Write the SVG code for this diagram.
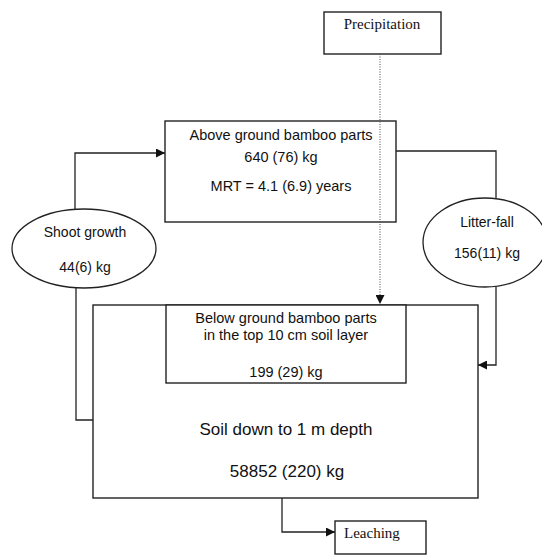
<svg xmlns="http://www.w3.org/2000/svg" width="542" height="556" viewBox="0 0 542 556">
<defs>
<marker id="arr" viewBox="0 0 10 10" refX="10" refY="5" markerWidth="10" markerHeight="9" markerUnits="userSpaceOnUse" orient="auto">
<path d="M0,0 L10,5 L0,10 Z" fill="#111"/>
</marker>
</defs>
<style>
.box{fill:#fff;stroke:#222;stroke-width:1.4}
.ell{fill:#fff;stroke:#222;stroke-width:1.3}
.ln{fill:none;stroke:#222;stroke-width:1.3}
.dot{fill:none;stroke:#444;stroke-width:1;stroke-dasharray:1 1.5}
.s{font-family:"Liberation Sans",Arial,sans-serif;font-size:14.5px;fill:#111;text-anchor:middle}
.sl{font-family:"Liberation Sans",Arial,sans-serif;font-size:17px;fill:#111;text-anchor:middle}
.t{font-family:"Liberation Serif","Times New Roman",serif;font-size:15px;fill:#111}
</style>
<rect width="542" height="556" fill="#fff"/>
<g id="soil">
<rect class="box" x="93" y="305" width="385" height="193"/>
<text class="sl" x="286" y="435">Soil down to 1 m depth</text>
<text class="sl" x="287" y="477">58852 (220) kg</text>
</g>
<g id="below">
<rect class="box" x="166" y="305" width="240" height="78"/>
<text class="s" x="286" y="323">Below ground bamboo parts</text>
<text class="s" x="286" y="340">in the top 10 cm soil layer</text>
<text class="s" x="286" y="377">199 (29) kg</text>
</g>
<g id="above">
<rect class="box" x="165" y="121" width="231" height="101"/>
<text class="s" x="281" y="140">Above ground bamboo parts</text>
<text class="s" x="281" y="162">640 (76) kg</text>
<text class="s" x="281" y="191">MRT = 4.1 (6.9) years</text>
</g>
<g id="precipitation">
<rect class="box" x="324" y="12" width="117" height="42"/>
<text class="t" x="382" y="29" text-anchor="middle">Precipitation</text>
</g>
<g id="shoot">
<ellipse class="ell" cx="84" cy="248.5" rx="72" ry="39.5"/>
<text class="s" x="85" y="237" style="font-size:14px">Shoot growth</text>
<text class="s" x="85" y="272" style="font-size:14px">44(6) kg</text>
</g>
<g id="litter">
<ellipse class="ell" cx="485" cy="242.5" rx="62" ry="44.5"/>
<text class="s" x="487" y="227" style="font-size:14px">Litter-fall</text>
<text class="s" x="487" y="258" style="font-size:14px">156(11) kg</text>
</g>
<g id="leaching">
<rect class="box" x="335" y="521" width="91" height="33"/>
<text class="t" x="344" y="538">Leaching</text>
</g>
<g id="connectors">
<path class="ln" d="M93,420 H76 V288"/>
<path class="ln" d="M75,209 V153 H165" marker-end="url(#arr)"/>
<path class="ln" d="M396,151 H496 V198"/>
<path class="ln" d="M496,287 V365 H478" marker-end="url(#arr)"/>
<path class="dot" d="M380,54 V304" marker-end="url(#arr)"/>
<path class="ln" d="M282,498 V532 H335" marker-end="url(#arr)"/>
</g>
</svg>
